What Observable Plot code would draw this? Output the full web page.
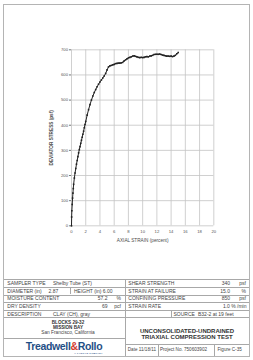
<!DOCTYPE html>
<html>
<head>
<meta charset="utf-8">
<script src="https://cdn.jsdelivr.net/npm/d3@7"></script>
<script src="https://cdn.jsdelivr.net/npm/@observablehq/plot@0.6"></script>
<style>
  html, body { margin: 0; padding: 0; background: #fff; }
  #page { position: relative; width: 253px; height: 360px; overflow: hidden; background: #fff;
          font-family: "Liberation Sans", Arial, sans-serif; color: #444; }
  #page svg { position: absolute; left: 0; top: 0; }
  .t { position: absolute; white-space: nowrap; line-height: 1; }
  .hl { position: absolute; height: 0; border-top: 1px solid #a8a8a8; }
  .vl { position: absolute; width: 0; border-left: 1px solid #a8a8a8; }
</style>
</head>
<body>
<div id="page"></div>
<script>
// ---- chart data ----
const strain = [0, 0.02, 0.05, 0.1, 0.15, 0.2, 0.25, 0.3, 0.4, 0.5, 0.6, 0.7, 0.8, 0.9, 1.0, 1.1, 1.2, 1.3, 1.4, 1.5,
  1.6, 1.7, 1.8, 1.9, 2.0, 2.2, 2.4, 2.6, 2.8, 3.0, 3.2, 3.4, 3.6, 3.8, 4.0, 4.2, 4.4, 4.6, 4.8, 5.0,
  5.2, 5.4, 5.6, 5.8, 6.0, 6.2, 6.4, 6.6, 6.8, 7.0, 7.2, 7.4, 7.6, 7.8, 8.0, 8.2, 8.4, 8.6, 8.8, 9.0,
  9.2, 9.4, 9.6, 9.8, 10.0, 10.2, 10.4, 10.6, 10.8, 11.0, 11.2, 11.4, 11.6, 11.8, 12.0, 12.2, 12.4, 12.6, 12.8, 13.0,
  13.2, 13.4, 13.6, 13.8, 14.0, 14.2, 14.4, 14.6, 14.8, 15.0];
const stress = [0, 35, 60, 85, 110, 130, 148, 165, 190, 210, 228, 245, 260, 275, 290, 303, 315, 328, 340, 352,
  364, 376, 390, 403, 415, 440, 462, 482, 500, 516, 530, 542, 553, 563, 572, 580, 588, 596, 606, 620,
  632, 636, 638, 640, 642, 645, 646, 647, 647, 648, 650, 656, 660, 664, 668, 670, 672, 675, 676, 674,
  672, 670, 669, 670, 669, 670, 672, 673, 672, 675, 676, 678, 681, 682, 682, 682, 683, 681, 679, 678,
  676, 675, 675, 674, 675, 673, 675, 678, 684, 689];
const xTicks = [0, 2, 4, 6, 8, 10, 12, 14, 16, 18, 20];
const yTicks = [0, 100, 200, 300, 400, 500, 600, 700];
const xLabel = "AXIAL STRAIN (percent)";
const yLabel = "DEVIATOR STRESS (psf)";

// ---- table texts ----
const leftLabels = ["SAMPLER TYPE", "DIAMETER (in)", "MOISTURE CONTENT", "DRY DENSITY", "DESCRIPTION"];
const leftValues = ["Shelby Tube (ST)", "2.87", "57.2", "69", "CLAY (CH), gray"];
const leftUnits = ["", "", "%", "pcf", ""];
const heightText = ["HEIGHT (in)", "6.00"];
const rightLabels = ["SHEAR STRENGTH", "STRAIN AT FAILURE", "CONFINING PRESSURE", "STRAIN RATE"];
const rightValues = ["340", "15.0", "850", "1.0 % /min"];
const rightUnits = ["psf", "%", "psf", ""];
const sourceText = ["SOURCE", "B32-2 at 19 feet"];
const locationLines = ["BLOCKS 29-32", "MISSION BAY", "San Francisco, California"];
const titleLines = ["UNCONSOLIDATED-UNDRAINED", "TRIAXIAL COMPRESSION TEST"];
const footer = ["Date 11/18/11", "Project No. 750603902", "Figure  C-35"];
const logo = ["Treadwell", "&", "Rollo", "A LANGAN COMPANY"];

const data = strain.map((x, i) => ({x, y: stress[i]}));
const font = "'Liberation Sans', Arial, sans-serif";

const chart = Plot.plot({
  width: 253,
  height: 250,
  marginLeft: 71,
  marginRight: 39.7,
  marginTop: 49.3,
  marginBottom: 24.7,
  style: {fontFamily: font, fontSize: "4.2px", color: "#555", background: "transparent", overflow: "visible"},
  x: {domain: [0, 20]},
  y: {domain: [0, 700]},
  marks: [
    Plot.gridX(xTicks, {stroke: "#c4c4c4", strokeOpacity: 1, strokeWidth: 0.8}),
    Plot.gridY(yTicks, {stroke: "#c4c4c4", strokeOpacity: 1, strokeWidth: 0.8}),
    Plot.axisX(xTicks, {label: null, tickSize: 0, tickPadding: 4.5, fontSize: 4.2, fill: "#555"}),
    Plot.axisY(yTicks, {label: null, tickSize: 2, tickPadding: 1.5, fontSize: 4.2, fill: "#555", stroke: "#777"}),
    Plot.text([xLabel], {frameAnchor: "bottom", dy: 14.7, textAnchor: "middle", lineAnchor: "middle", fontSize: 4.7, fill: "#4a4a4a"}),
    Plot.text([yLabel], {frameAnchor: "left", dx: -20, rotate: -90, textAnchor: "middle", lineAnchor: "middle", fontSize: 4.7, fontWeight: "bold", fill: "#4a4a4a"}),
    Plot.line(data, {x: "x", y: "y", stroke: "#222", strokeWidth: 1}),
    Plot.dot(data, {x: "x", y: "y", symbol: "square", r: 0.9, fill: "#222", stroke: "none"})
  ]
});

const page = document.getElementById("page");
page.appendChild(chart);

function el(cls, css, text) {
  const d = document.createElement("div");
  d.className = cls;
  Object.assign(d.style, css);
  if (text != null) d.textContent = text;
  page.appendChild(d);
  return d;
}
function txt(x, y, s, anchor = "start", size = 5, weight = "normal", color = "#444") {
  const tx = anchor === "end" ? "-100%" : anchor === "middle" ? "-50%" : "0";
  return el("t", {left: x + "px", top: y + "px", transform: `translate(${tx},-50%)`,
    fontSize: size + "px", fontWeight: weight, color}, s);
}
function hl(y, x1, x2) { el("hl", {left: x1 + "px", top: y + "px", width: (x2 - x1) + "px"}); }
function vl(x, y1, y2) { el("vl", {left: x + "px", top: y1 + "px", height: (y2 - y1) + "px"}); }

// page border
el("t", {left: "3px", top: "4px", width: "245px", height: "351px", border: "1px solid #b4b4b4"});

// table geometry
const L = 3.5, R = 249, M = 124.5, T0 = 279.3, RH = 7.6, B = 356;
for (let i = 0; i <= 5; i++) hl(T0 + RH * i, L, R);
vl(M, T0, B);
vl(70, T0 + RH, T0 + RH * 2);
vl(170.5, T0 + RH * 4, T0 + RH * 5);

for (let i = 0; i < 5; i++) {
  const cy = T0 + RH * i + RH / 2;
  txt(7.3, cy, leftLabels[i]);
  if (i === 0 || i === 4) txt(53, cy, leftValues[i]);
  else if (i === 1) txt(48.5, cy, leftValues[i]);
  else txt(107.5, cy, leftValues[i], "end");
  if (leftUnits[i]) txt(121, cy, leftUnits[i], "end");
}
txt(74, T0 + RH * 1.5, heightText[0] + "  " + heightText[1]);

for (let i = 0; i < 4; i++) {
  const cy = T0 + RH * i + RH / 2;
  txt(128.3, cy, rightLabels[i]);
  if (rightUnits[i]) {
    txt(230, cy, rightValues[i], "end");
    txt(246, cy, rightUnits[i], "end");
  } else {
    txt(246.5, cy, rightValues[i], "end");
  }
}
txt(173.5, T0 + RH * 4.5, sourceText[0]);
txt(198, T0 + RH * 4.5, sourceText[1]);

// bottom block – left
txt(68, 322.8, locationLines[0], "middle", 4.6, "bold", "#333");
txt(68, 327.6, locationLines[1], "middle", 4.6, "bold", "#333");
txt(68, 332.5, locationLines[2], "middle", 4.8, "normal", "#444");
hl(338, L, M);
const lg = txt(64, 345.5, "", "middle", 10.5, "bold", "#1f4f86");
lg.style.letterSpacing = "-0.35px";
const s1 = document.createElement("span"); s1.textContent = logo[0]; lg.appendChild(s1);
const s2 = document.createElement("span"); s2.textContent = logo[1]; s2.style.color = "#d23a2e"; lg.appendChild(s2);
const s3 = document.createElement("span"); s3.textContent = logo[2]; lg.appendChild(s3);
const sub = txt(88.5, 352.6, logo[3], "middle", 2.2, "bold", "#1f4f86");
sub.style.letterSpacing = "0.35px";

// bottom block – right
txt(187, 330.5, titleLines[0], "middle", 6, "bold", "#333");
txt(187, 337.3, titleLines[1], "middle", 6, "bold", "#333");
hl(343.5, M, R);
vl(157.5, 343.5, B);
vl(214, 343.5, B);
txt(127.8, 350, footer[0], "start", 4.6);
txt(160, 350, footer[1], "start", 4.6);
txt(217.5, 350, footer[2], "start", 4.6);
</script>
</body>
</html>
